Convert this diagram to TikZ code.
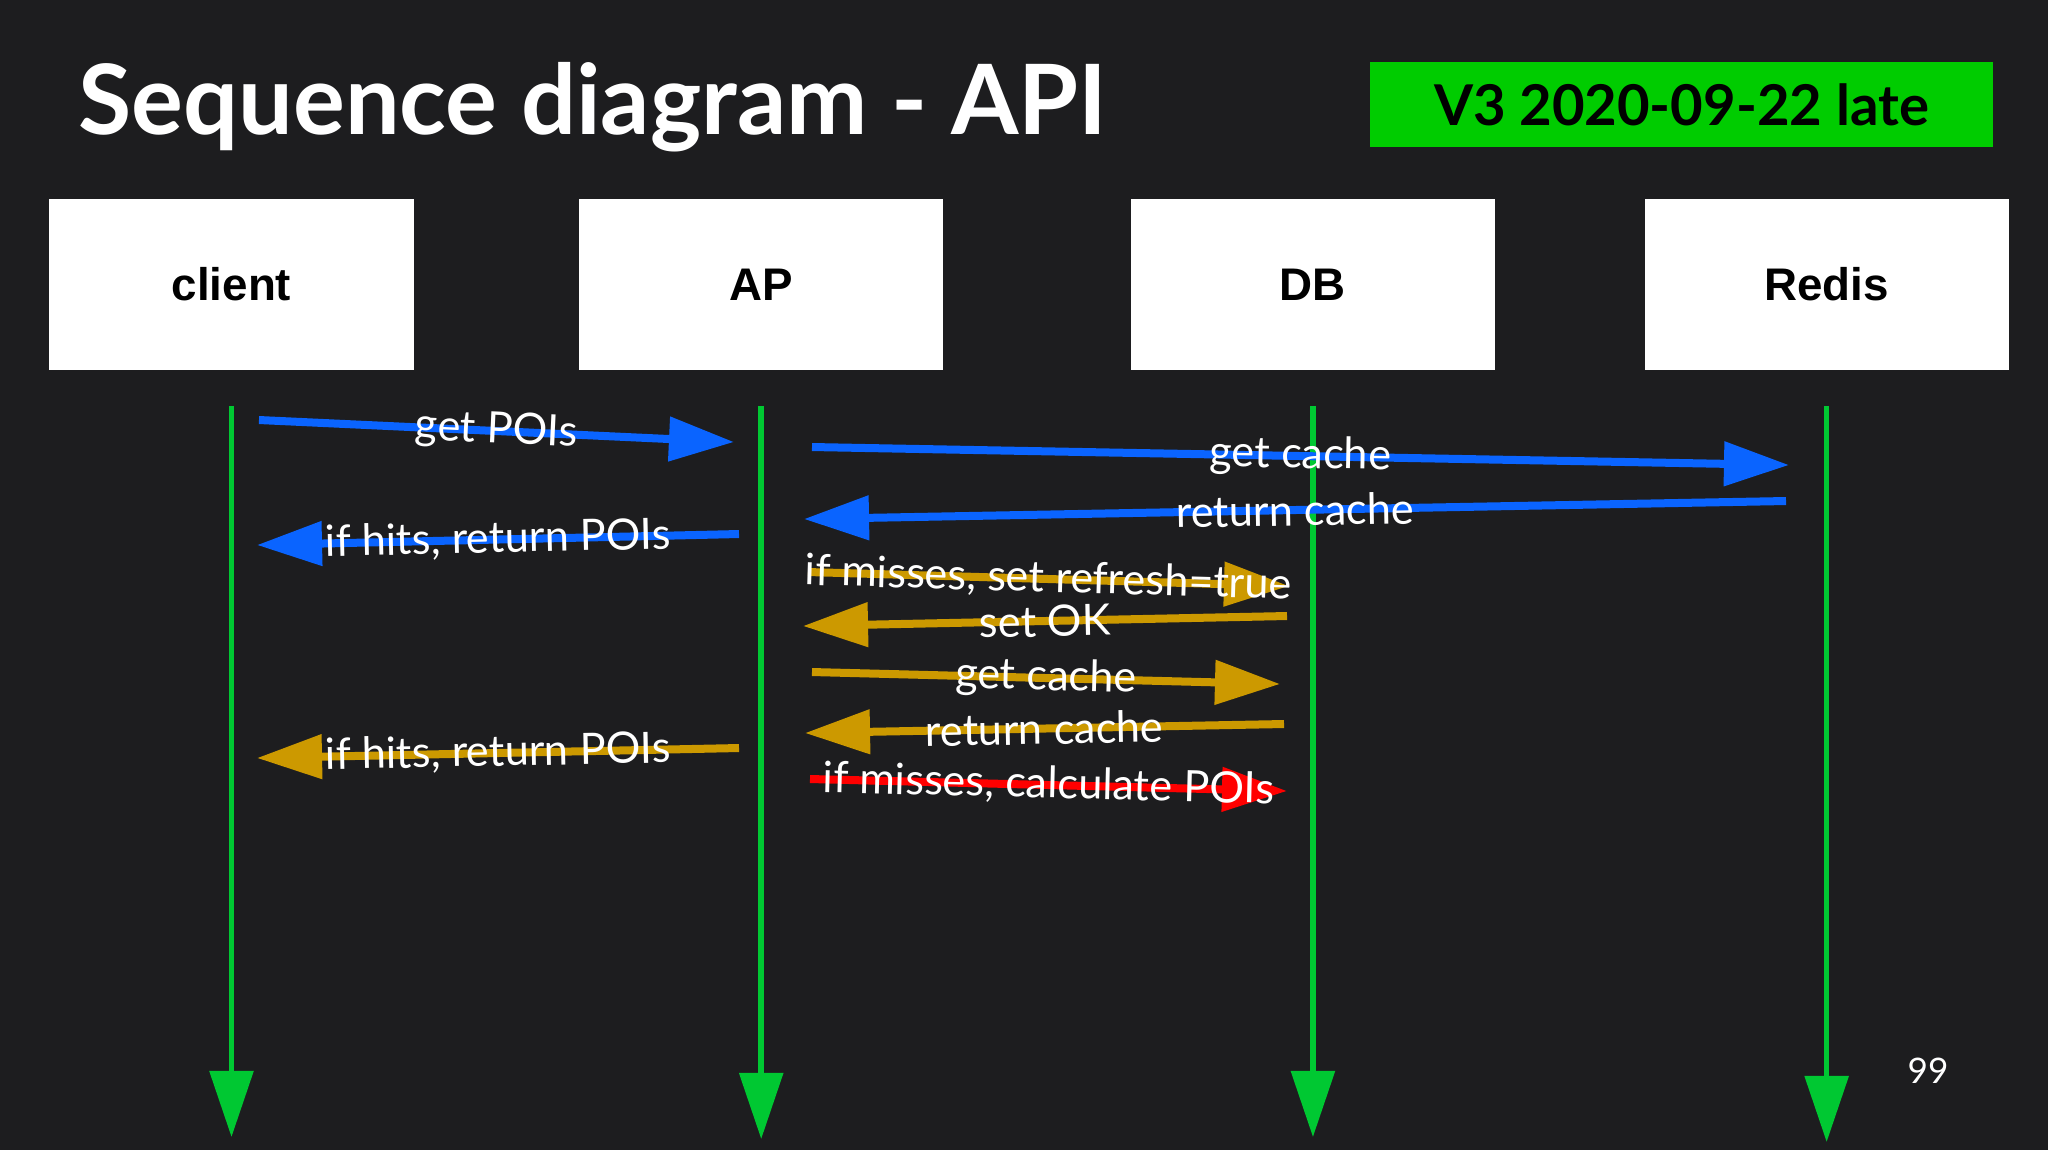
\documentclass[tikz,border=0pt]{standalone}
\usepackage{fontspec}
\setmainfont{Lato}
\newfontfamily\boxfont{Liberation Sans}
\usetikzlibrary{arrows.meta, positioning, calc}
\definecolor{slidebg}{RGB}{29,29,31}
\definecolor{lifegreen}{RGB}{0,200,50}
\definecolor{badgegreen}{RGB}{0,204,0}
\definecolor{msgblue}{RGB}{10,100,255}
\definecolor{msggold}{RGB}{204,153,0}
\definecolor{msgred}{RGB}{255,0,0}

\begin{document}
\begin{tikzpicture}[
  x=0.01cm, y=-0.01cm,
  actor/.style={
    rectangle, fill=white, inner sep=0pt,
    minimum width=3.64cm, minimum height=1.71cm,
    font=\boxfont\fontsize{13}{15}\selectfont\bfseries
  },
  lifeline/.style={-{Triangle[length=6.6mm, width=4.3mm]}, line width=1.6pt, color=lifegreen},
  msg/.style={-{Triangle[length=6.5mm, width=4.3mm]}, line width=0.8mm},
  lbl/.style={midway, sloped, text=white, inner sep=0pt,
    font=\fontsize{12.3}{15}\selectfont}
]

% Background
\fill[slidebg] (0,0) rectangle (2048,1150);

% Title and version badge
\node[anchor=base west, text=white, font=\fontsize{27.6}{33}\selectfont\bfseries] (title)
      at (66,134) {Sequence diagram - API};
\node[fill=badgegreen, minimum width=6.23cm, minimum height=0.85cm, inner sep=0pt,
      font=\fontsize{16}{19}\selectfont\bfseries] (badge)
      at (1681.5,104.5) {V3 2020-09-22 late};

% Participants
\node[actor] (client) at (231.5,284.5) {client};
\node[actor, right=1.64cm of client] (ap)    {AP};
\node[actor, right=1.86cm of ap]     (db)    {DB};
\node[actor, right=1.48cm of db]     (redis) {Redis};

% Lifelines
\foreach \a/\e in {client/1137, ap/1139, db/1137, redis/1142}{
  \draw[lifeline] (\a.south |- 0,406) -- (\a.south |- 0,\e);
}

% Message end points
\coordinate (gp1) at (259,420);  \coordinate (gp2) at (734,442);
\coordinate (gc1) at (812,447);  \coordinate (gc2) at (1789,465);
\coordinate (rc1) at (1786,501); \coordinate (rc2) at (804,519);
\coordinate (hb1) at (739,534);  \coordinate (hb2) at (257,545);
\coordinate (sr1) at (808,572);  \coordinate (sr2) at (1289,586);
\coordinate (so1) at (1287,616); \coordinate (so2) at (803,626);
\coordinate (gd1) at (812,672);  \coordinate (gd2) at (1280,684);
\coordinate (rd1) at (1284,724); \coordinate (rd2) at (805,733);
\coordinate (hg1) at (739,748);  \coordinate (hg2) at (257,758);
\coordinate (cp1) at (810,779);  \coordinate (cp2) at (1287,791);

% Cache hit via Redis
\draw[msg, msgblue] (gp1) -- node[lbl] {get POIs} (gp2);
\draw[msg, msgblue] (gc1) -- node[lbl] {get cache} (gc2);
\draw[msg, msgblue] (rc1) -- node[lbl] {return cache} (rc2);
\draw[msg, msgblue] (hb1) -- node[lbl] {if hits, return POIs} (hb2);

% Fallback to DB
\draw[msg, msggold] (sr1) -- node[lbl] {if misses, set refresh=true} (sr2);
\draw[msg, msggold] (so1) -- node[lbl] {set OK} (so2);
\draw[msg, msggold] (gd1) -- node[lbl] {get cache} (gd2);
\draw[msg, msggold] (rd1) -- node[lbl] {return cache} (rd2);
\draw[msg, msggold] (hg1) -- node[lbl] {if hits, return POIs} (hg2);
\draw[msg, msgred]  (cp1) -- node[lbl] {if misses, calculate POIs} (cp2);

% Page number
\node[text=white, font=\fontsize{10}{12}\selectfont] (page) at (1928,1071) {99};

\end{tikzpicture}
\end{document}
